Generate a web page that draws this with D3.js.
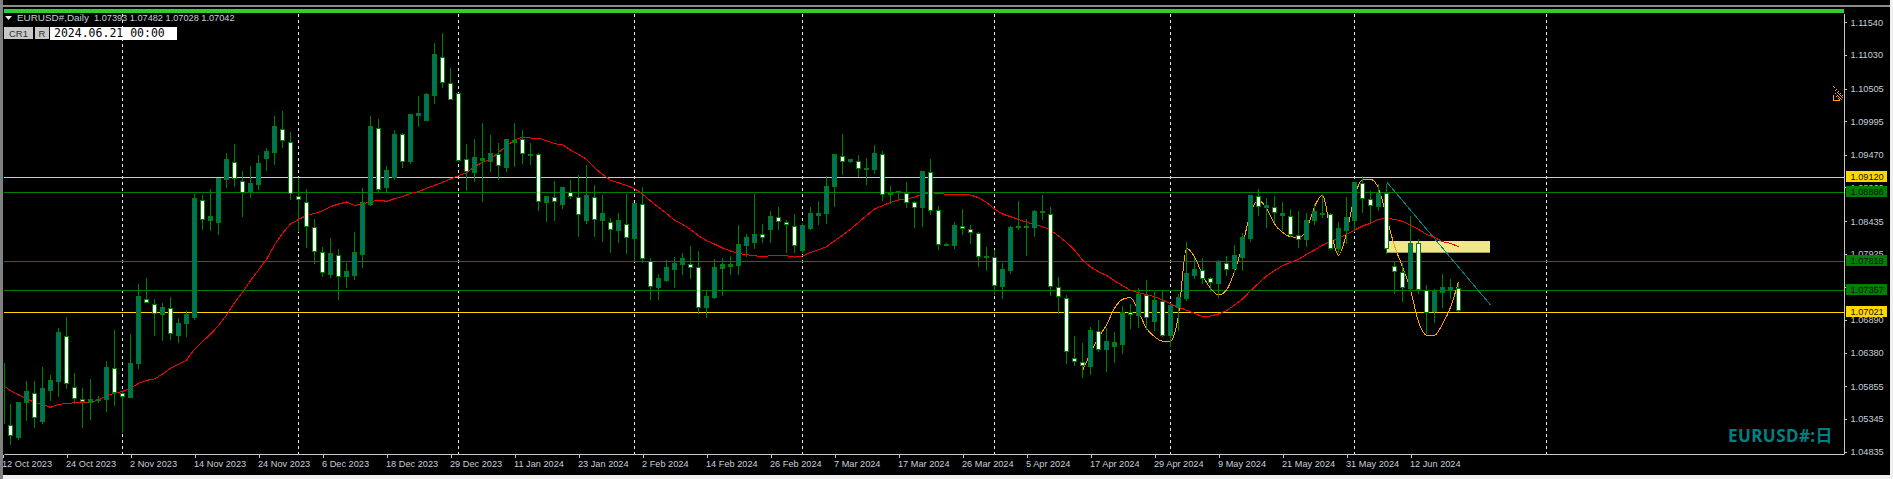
<!DOCTYPE html>
<html>
<head>
<meta charset="utf-8">
<title>EURUSD# Daily</title>
<script src="https://cdnjs.cloudflare.com/ajax/libs/d3/7.8.5/d3.min.js"></script>
<style>
  html, body { margin: 0; padding: 0; background: #000; overflow: hidden; }
  svg { display: block; }
  text { font-family: "Liberation Sans", sans-serif; }
</style>
</head>
<body>
<svg id="chart" width="1893" height="479"></svg>
<script>
// daily bars, oldest first
const opens = [1.06213,1.05256,1.05068,1.05604,1.05755,1.05318,1.05792,1.05943,1.06646,1.05849,1.05662,1.05610,1.05636,1.05651,1.06146,1.05755,1.05693,1.06214,1.07224,1.07145,1.06979,1.07083,1.06661,1.06838,1.06932,1.08770,1.08457,1.08416,1.09087,1.09363,1.09066,1.08889,1.09009,1.09426,1.09519,1.09878,1.09675,1.08832,1.08738,1.08348,1.07957,1.07614,1.07911,1.07583,1.07598,1.07926,1.08697,1.09894,1.08973,1.09129,1.09790,1.09379,1.10097,1.10019,1.10410,1.11003,1.10597,1.10430,1.09410,1.09207,1.09394,1.09379,1.09488,1.09285,1.09675,1.09722,1.09462,1.09478,1.08738,1.08817,1.08707,1.08895,1.08817,1.08457,1.08817,1.08457,1.08416,1.08301,1.08395,1.08176,1.08707,1.07817,1.07400,1.07520,1.07692,1.07770,1.07760,1.07713,1.07088,1.07244,1.07708,1.07728,1.07754,1.08067,1.08114,1.08228,1.08317,1.08504,1.08416,1.08364,1.07989,1.08322,1.08535,1.08556,1.08978,1.09457,1.09379,1.09379,1.09248,1.09254,1.09478,1.08853,1.08889,1.08879,1.08728,1.08650,1.09207,1.08613,1.08067,1.08067,1.08364,1.08317,1.08254,1.07879,1.07879,1.07416,1.07676,1.08348,1.08353,1.08348,1.08572,1.08551,1.07411,1.07239,1.06302,1.06240,1.06177,1.06724,1.06432,1.06489,1.06510,1.07010,1.06973,1.07286,1.06880,1.07182,1.06651,1.07098,1.07239,1.07598,1.07676,1.07541,1.07473,1.07786,1.07708,1.07879,1.08176,1.08827,1.08660,1.08650,1.08535,1.08520,1.08223,1.08150,1.08447,1.08551,1.08551,1.08010,1.08301,1.08457,1.09035,1.08785,1.08676,1.08879,1.07739,1.07635,1.07395,1.08088,1.07353,1.07026,1.07332,1.07374,1.07393];
const highs = [1.06213,1.05589,1.05610,1.05953,1.05953,1.06172,1.06047,1.06776,1.06953,1.06078,1.05838,1.05984,1.05719,1.06265,1.06744,1.05797,1.06682,1.07463,1.07557,1.07239,1.07172,1.07265,1.06942,1.07046,1.08879,1.08858,1.08952,1.09129,1.09509,1.09649,1.09233,1.09311,1.09483,1.09587,1.10087,1.10170,1.09842,1.09129,1.08952,1.08478,1.08046,1.08181,1.08015,1.07796,1.08275,1.08962,1.10087,1.10045,1.09306,1.09868,1.09832,1.10118,1.10399,1.10446,1.11232,1.11383,1.10836,1.10451,1.09649,1.09733,1.09983,1.09795,1.09670,1.09733,1.09983,1.09868,1.09670,1.09509,1.08837,1.09077,1.08983,1.09087,1.09170,1.09327,1.09014,1.08858,1.08494,1.08577,1.08879,1.08733,1.08983,1.07869,1.07619,1.07838,1.07890,1.07952,1.08056,1.07984,1.07369,1.07859,1.07869,1.07900,1.08390,1.08244,1.08879,1.08400,1.08608,1.08671,1.08462,1.08556,1.08426,1.08671,1.08764,1.09150,1.09493,1.09806,1.09420,1.09483,1.09436,1.09639,1.09545,1.08999,1.08900,1.09056,1.08764,1.09233,1.09420,1.08681,1.08103,1.08431,1.08634,1.08390,1.08275,1.08046,1.07994,1.07796,1.08369,1.08764,1.08483,1.08619,1.08858,1.08671,1.07577,1.07296,1.06656,1.06547,1.06797,1.06901,1.06776,1.06724,1.07119,1.07150,1.07400,1.07525,1.07338,1.07359,1.07150,1.07317,1.08119,1.07879,1.07869,1.07577,1.07848,1.07905,1.08077,1.08265,1.08858,1.08952,1.08806,1.08842,1.08754,1.08645,1.08608,1.08577,1.08712,1.08879,1.08582,1.08442,1.08827,1.09051,1.09150,1.08920,1.09025,1.09025,1.07817,1.07801,1.08525,1.08166,1.07452,1.07390,1.07619,1.07546,1.07482];
const lows = [1.05266,1.04954,1.05037,1.05328,1.05224,1.05287,1.05641,1.05703,1.05823,1.05599,1.05224,1.05349,1.05615,1.05474,1.05563,1.05146,1.05682,1.06146,1.07172,1.06656,1.06578,1.06599,1.06552,1.06646,1.06901,1.08317,1.08296,1.08233,1.08967,1.08983,1.08514,1.08816,1.08931,1.09233,1.09327,1.09597,1.08780,1.08275,1.08036,1.07775,1.07583,1.07557,1.07218,1.07400,1.07536,1.07713,1.08692,1.08895,1.08900,1.09098,1.09285,1.09347,1.09920,1.10014,1.10285,1.10534,1.10337,1.09368,1.08921,1.09061,1.08749,1.09223,1.09098,1.09217,1.09295,1.09347,1.09327,1.08608,1.08442,1.08452,1.08639,1.08796,1.08202,1.08410,1.08202,1.08129,1.07952,1.08108,1.07942,1.07817,1.07796,1.07224,1.07224,1.07505,1.07411,1.07609,1.07546,1.07005,1.06942,1.07234,1.07286,1.07609,1.07609,1.07890,1.08015,1.08108,1.08108,1.08306,1.07952,1.07952,1.07952,1.08306,1.08390,1.08410,1.08671,1.09170,1.09358,1.09139,1.09014,1.09191,1.08764,1.08723,1.08764,1.08650,1.08337,1.08358,1.08546,1.08004,1.08056,1.08015,1.08233,1.08098,1.07734,1.07671,1.07296,1.07234,1.07629,1.08317,1.07900,1.08202,1.08473,1.07286,1.06994,1.06224,1.06193,1.06005,1.06047,1.06411,1.06099,1.06234,1.06370,1.06765,1.06786,1.06744,1.06734,1.06640,1.06484,1.06734,1.07203,1.07546,1.07463,1.07348,1.07244,1.07593,1.07645,1.07671,1.08129,1.08525,1.08348,1.08421,1.08296,1.08202,1.08036,1.08046,1.08390,1.08494,1.07994,1.07952,1.08088,1.08275,1.08577,1.08426,1.08608,1.07942,1.07317,1.07192,1.07348,1.07317,1.06682,1.06859,1.07088,1.07229,1.07028];
const closes = [1.05276,1.05089,1.05604,1.05776,1.05370,1.05823,1.05948,1.06698,1.05901,1.05667,1.05620,1.05651,1.05656,1.06151,1.05761,1.05703,1.06214,1.07260,1.07172,1.06999,1.07088,1.06682,1.06838,1.06979,1.08790,1.08468,1.08509,1.09108,1.09400,1.09103,1.08889,1.09025,1.09337,1.09524,1.09915,1.09696,1.08874,1.08775,1.08353,1.07963,1.07635,1.07931,1.07572,1.07650,1.07947,1.08728,1.09915,1.08931,1.09228,1.09790,1.09379,1.10102,1.10118,1.10415,1.11039,1.10602,1.10337,1.09394,1.09212,1.09431,1.09415,1.09493,1.09306,1.09712,1.09707,1.09493,1.09478,1.08744,1.08822,1.08744,1.08962,1.08822,1.08541,1.08837,1.08462,1.08556,1.08306,1.08447,1.08181,1.08712,1.07853,1.07416,1.07541,1.07713,1.07775,1.07853,1.07713,1.07088,1.07260,1.07713,1.07760,1.07760,1.08072,1.08181,1.08228,1.08181,1.08509,1.08431,1.08384,1.08056,1.08369,1.08556,1.08556,1.08978,1.09483,1.09368,1.09400,1.09259,1.09259,1.09493,1.08853,1.08879,1.08900,1.08728,1.08650,1.09212,1.08603,1.08072,1.08077,1.08369,1.08322,1.08259,1.07885,1.07895,1.07432,1.07682,1.08348,1.08364,1.08364,1.08587,1.08587,1.07416,1.07260,1.06401,1.06245,1.06182,1.06729,1.06432,1.06557,1.06541,1.07010,1.06979,1.07291,1.06932,1.07197,1.06651,1.07119,1.07244,1.07619,1.07682,1.07541,1.07478,1.07812,1.07682,1.07900,1.08181,1.08837,1.08671,1.08681,1.08572,1.08556,1.08228,1.08150,1.08447,1.08587,1.08561,1.08010,1.08322,1.08494,1.09040,1.08790,1.08681,1.08879,1.08010,1.07650,1.07400,1.08088,1.07374,1.07010,1.07338,1.07400,1.07400,1.07042];

// red moving average, one value per bar
const maValues = [1.05875,1.05787,1.05719,1.05662,1.05604,1.05573,1.05526,1.05573,1.05584,1.05599,1.05610,1.05604,1.05641,1.05708,1.05745,1.05776,1.05823,1.05901,1.05948,1.05969,1.06047,1.06135,1.06198,1.06265,1.06432,1.06552,1.06671,1.06802,1.06968,1.07161,1.07322,1.07505,1.07671,1.07838,1.08062,1.08244,1.08390,1.08462,1.08520,1.08556,1.08593,1.08660,1.08702,1.08733,1.08681,1.08702,1.08738,1.08764,1.08744,1.08785,1.08816,1.08868,1.08895,1.08947,1.08993,1.09040,1.09092,1.09144,1.09191,1.09285,1.09353,1.09400,1.09504,1.09608,1.09701,1.09748,1.09733,1.09727,1.09691,1.09644,1.09629,1.09545,1.09478,1.09400,1.09269,1.09165,1.09072,1.09035,1.08993,1.08941,1.08858,1.08749,1.08650,1.08556,1.08452,1.08384,1.08306,1.08207,1.08129,1.08077,1.08015,1.07968,1.07931,1.07911,1.07895,1.07879,1.07895,1.07895,1.07895,1.07874,1.07890,1.07947,1.07984,1.08036,1.08124,1.08213,1.08306,1.08416,1.08520,1.08624,1.08676,1.08728,1.08764,1.08780,1.08806,1.08863,1.08879,1.08868,1.08853,1.08858,1.08858,1.08842,1.08801,1.08728,1.08624,1.08546,1.08504,1.08462,1.08416,1.08379,1.08348,1.08296,1.08202,1.08103,1.07984,1.07827,1.07723,1.07645,1.07588,1.07505,1.07426,1.07354,1.07317,1.07286,1.07255,1.07203,1.07145,1.07088,1.07046,1.06994,1.06942,1.06953,1.06984,1.07036,1.07124,1.07218,1.07348,1.07463,1.07577,1.07661,1.07739,1.07791,1.07838,1.07916,1.07984,1.08062,1.08114,1.08166,1.08228,1.08296,1.08358,1.08400,1.08462,1.08478,1.08462,1.08431,1.08374,1.08306,1.08228,1.08181,1.08114,1.08088,1.08036];

// orange swing curve, starts at bar 135
const swingStart = 135;
const swingValues = [1.06099,1.06370,1.06619,1.06812,1.07072,1.07213,1.07239,1.07020,1.06760,1.06630,1.06562,1.06562,1.06968,1.08009,1.07879,1.07593,1.07385,1.07281,1.07359,1.07645,1.08062,1.08556,1.08764,1.08634,1.08390,1.08259,1.08192,1.08181,1.08296,1.08660,1.08842,1.08296,1.07905,1.08244,1.08816,1.09077,1.09087,1.08947,1.08504,1.08046,1.07723,1.07359,1.06864,1.06651,1.06651,1.06828,1.07088,1.07489];

const goldLevels = [1.09120, 1.07021];
const greenLevels = [1.08886, 1.07818, 1.07357];
const priceTicks = [1.11540,1.11030,1.10505,1.09995,1.09470,1.08960,1.08435,1.07925,1.07400,1.06890,1.06380,1.05855,1.05345,1.04835];
const dateLabels = ["12 Oct 2023","24 Oct 2023","2 Nov 2023","14 Nov 2023","24 Nov 2023","6 Dec 2023","18 Dec 2023","29 Dec 2023","11 Jan 2024","23 Jan 2024","2 Feb 2024","14 Feb 2024","26 Feb 2024","7 Mar 2024","17 Mar 2024","26 Mar 2024","5 Apr 2024","17 Apr 2024","29 Apr 2024","9 May 2024","21 May 2024","31 May 2024","12 Jun 2024"];
const monthBars = [15,37,57,79,100,124,146,169,193];
const trendBars = [173,186];
const trendPrices = [1.09051,1.07125];
const zoneBars = [173,186];
const zonePrices = [1.08124,1.07942];

const W = 1893, H = 479;
const plotLeft = 4, plotRight = 1844, plotTop = 14, plotBottom = 454;
const svg = d3.select("#chart");

const x = d3.scaleLinear().domain([0, 1]).range([2, 10]);
const y = d3.scaleLinear().domain([1.04835, 1.1154]).range([451.6, 22.3]);
const py = p => Math.round(y(p)) + 0.5;
const bar = i => x(i) + 0.5;

svg.append("rect").attr("width", W).attr("height", H).attr("fill", "#000");

svg.append("defs").append("clipPath").attr("id", "plot")
  .append("rect").attr("x", plotLeft).attr("y", plotTop).attr("width", plotRight - plotLeft).attr("height", plotBottom - plotTop);

const plot = svg.append("g").attr("clip-path", "url(#plot)");

// zone
plot.append("rect")
  .attr("x", x(zoneBars[0]))
  .attr("y", y(zonePrices[0]))
  .attr("width", x(zoneBars[1]) - x(zoneBars[0]))
  .attr("height", y(zonePrices[1]) - y(zonePrices[0]))
  .attr("fill", "#f0e68c");

// month separators
plot.selectAll(".sep").data(monthBars).join("line")
  .attr("class", "sep")
  .attr("x1", bar).attr("x2", bar)
  .attr("y1", plotTop).attr("y2", plotBottom)
  .attr("stroke", "#e8e8e8")
  .attr("stroke-dasharray", "3,3")
  .attr("shape-rendering", "crispEdges");

// horizontal levels
const levelLine = (levels, color) => plot.selectAll(null).data(levels).join("line")
  .attr("x1", plotLeft).attr("x2", plotRight)
  .attr("y1", py).attr("y2", py)
  .attr("stroke", color)
  .attr("shape-rendering", "crispEdges");
levelLine(greenLevels, "#008000");
levelLine(goldLevels, "#ffd700");

// trend line
plot.append("line")
  .attr("x1", bar(trendBars[0])).attr("y1", y(trendPrices[0]))
  .attr("x2", bar(trendBars[1])).attr("y2", y(trendPrices[1]))
  .attr("stroke", "#008080")
  .attr("shape-rendering", "crispEdges");

// indicator lines
const maLine = d3.line().x((d, i) => bar(i)).y(d => y(d));
plot.append("path")
  .attr("d", maLine(maValues))
  .attr("fill", "none")
  .attr("stroke", "#ff0000")
  .attr("shape-rendering", "crispEdges");

const swingLine = d3.line().x((d, i) => bar(i + swingStart)).y(d => y(d)).curve(d3.curveMonotoneX);
plot.append("path")
  .attr("d", swingLine(swingValues))
  .attr("fill", "none")
  .attr("stroke", "#ffa500")
  .attr("shape-rendering", "crispEdges");

// candles
const candles = opens.map((o, i) => ({ i, o, h: highs[i], l: lows[i], c: closes[i] }));
const candle = plot.selectAll(".candle").data(candles).join("g")
  .attr("class", "candle")
  .attr("shape-rendering", "crispEdges");

candle.append("line")
  .attr("x1", d => bar(d.i)).attr("x2", d => bar(d.i))
  .attr("y1", d => py(d.h)).attr("y2", d => py(d.l))
  .attr("stroke", "#008000");

candle.append("rect")
  .attr("x", d => x(d.i) - 1.5)
  .attr("width", 4)
  .attr("y", d => py(Math.max(d.o, d.c)))
  .attr("height", d => Math.max(1, py(Math.min(d.o, d.c)) - py(Math.max(d.o, d.c))))
  .attr("fill", d => d.c > d.o ? "#006f6f" : "#ffffff")
  .attr("stroke", "#008000");

// window chrome
svg.append("rect").attr("x", 0).attr("y", 0).attr("width", plotLeft - 1).attr("height", H).attr("fill", "#808080");
svg.append("rect").attr("x", 0).attr("y", 5).attr("width", W).attr("height", 2).attr("fill", "#8c8c8c");
svg.append("rect").attr("x", plotLeft).attr("y", 9).attr("width", plotRight - plotLeft).attr("height", 4).attr("fill", "#32cd32");
svg.append("rect").attr("x", 0).attr("y", 475).attr("width", W).attr("height", 4).attr("fill", "#f0f0f0");
svg.append("rect").attr("x", 1890).attr("y", 0).attr("width", 3).attr("height", H).attr("fill", "#f0f0f0");

// axes
const axisColor = "#c8c8c8";
const textColor = "#c4d0dc";
const labelFont = "9.2px";

const xAxis = d3.axisBottom(x)
  .tickValues(dateLabels.map((d, i) => i * 8))
  .tickFormat((d, i) => dateLabels[i])
  .tickSize(3)
  .tickPadding(2);

const gx = svg.append("g").attr("transform", `translate(0.5,${plotBottom + 0.5})`).call(xAxis);
gx.select(".domain").attr("d", `M${plotLeft},0H${plotRight}`).attr("stroke", axisColor);
gx.selectAll(".tick line").attr("stroke", axisColor).attr("shape-rendering", "crispEdges");
gx.selectAll(".tick text")
  .attr("text-anchor", "start")
  .attr("x", -1)
  .attr("y", 5.5)
  .attr("fill", textColor)
  .style("font-size", labelFont)
  .style("font-family", "'Liberation Sans', sans-serif");

svg.append("rect").attr("x", 0).attr("y", 440).attr("width", plotLeft - 1).attr("height", 39).attr("fill", "#808080");

const yAxis = d3.axisRight(y)
  .tickValues(priceTicks)
  .tickFormat(d3.format(".5f"))
  .tickSize(2)
  .tickPadding(4);

const gy = svg.append("g").attr("transform", `translate(${plotRight + 0.5},0)`).call(yAxis);
gy.select(".domain").attr("d", `M0,${plotTop}V${plotBottom}`).attr("stroke", axisColor);
gy.selectAll(".tick line").attr("stroke", axisColor).attr("shape-rendering", "crispEdges");
gy.selectAll(".tick text")
  .attr("fill", textColor)
  .style("font-size", labelFont)
  .style("font-family", "'Liberation Sans', sans-serif");

// price tags
const tag = (levels, bg) => {
  const t = svg.selectAll(null).data(levels).join("g")
    .attr("transform", d => `translate(1846,${Math.round(y(d))})`);
  t.append("rect").attr("y", -6).attr("width", 41).attr("height", 11).attr("fill", bg);
  t.append("text").attr("x", 4.5).attr("y", 0).attr("dy", "0.32em")
    .attr("fill", "#101010")
    .style("font-size", labelFont)
    .text(d3.format(".5f"));
};
tag(goldLevels, "#ffd700");
tag(greenLevels, "#008000");

// header
svg.append("path").attr("d", "M5,16H12L8.5,20Z").attr("fill", "#e8e8e8");
svg.append("text").attr("x", 17).attr("y", 21).attr("fill", textColor).style("font-size", "9.9px").text("EURUSD#,Daily");
svg.append("text").attr("x", 94).attr("y", 21).attr("fill", textColor).style("font-size", labelFont).text("1.07393 1.07482 1.07028 1.07042");

const button = (bx, bw, label) => {
  svg.append("rect").attr("x", bx).attr("y", 27).attr("width", bw).attr("height", 12).attr("fill", "#c8c8c8");
  svg.append("text").attr("x", bx + bw / 2).attr("y", 37).attr("text-anchor", "middle")
    .attr("fill", "#303030").style("font-size", "9.5px").text(label);
};
button(4, 29, "CR1");
button(35, 14, "R");
svg.append("rect").attr("x", 50).attr("y", 27).attr("width", 127).attr("height", 13).attr("fill", "#fff");
svg.append("text").attr("x", 54).attr("y", 37).attr("fill", "#000")
  .style("font-family", "'DejaVu Sans Mono', monospace").style("font-size", "11.5px")
  .text("2024.06.21 00:00");

// orange marker by the price axis
const marker = svg.append("g").attr("stroke", "#ffa500").attr("fill", "none").attr("shape-rendering", "crispEdges");
marker.append("path").attr("stroke-width", 1.3).attr("stroke-dasharray", "2,1")
  .attr("d", "M1833.5,86.5L1844,97M1835,90L1843,98M1835,93L1842,100M1836,96L1840,100");
marker.append("path").attr("d", "M1833.5,94.5V100.5H1839.5");

// watermark
svg.append("text")
  .attr("x", 1833).attr("y", 441.5)
  .attr("text-anchor", "end")
  .attr("fill", "#008080")
  .style("font-family", "'Noto Sans', 'Noto Sans CJK JP', sans-serif")
  .style("font-weight", "700")
  .style("font-size", "17px")
  .style("letter-spacing", "0.45px")
  .text("EURUSD#:日");
</script>
</body>
</html>
